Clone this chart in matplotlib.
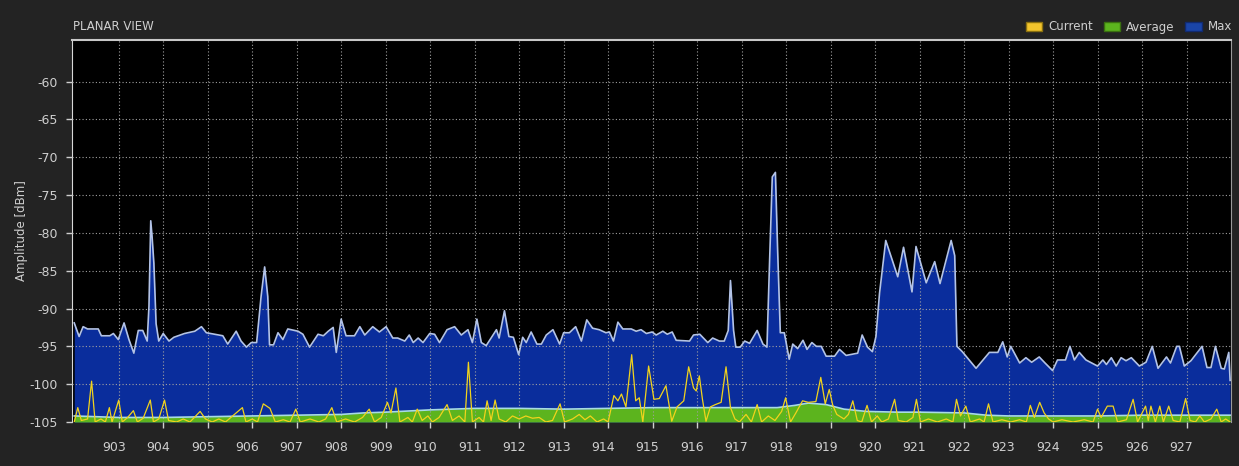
import matplotlib
matplotlib.use("agg")
import matplotlib.pyplot as plt
import matplotlib.patches as mpatches
import matplotlib.transforms as mtransforms

plt.rcParams['axes.unicode_minus'] = False

# Max trace (MHz, dBm)
max_f = [902.00, 902.11, 902.20, 902.30, 902.54, 902.61, 902.80, 902.88, 902.99, 903.12,
         903.23, 903.34, 903.44, 903.54, 903.64, 903.68, 903.72, 903.75, 903.79, 903.84,
         903.90, 904.00, 904.13, 904.24, 904.48, 904.71, 904.86, 904.97, 905.34, 905.45,
         905.64, 905.75, 905.87, 905.98, 906.10, 906.20, 906.28, 906.35, 906.39, 906.48,
         906.58, 906.69, 906.80, 907.03, 907.14, 907.29, 907.48, 907.60, 907.71, 907.82,
         907.89, 908.00, 908.11, 908.30, 908.42, 908.53, 908.71, 908.86, 909.01, 909.16,
         909.27, 909.43, 909.53, 909.62, 909.73, 909.84, 909.99, 910.10, 910.21, 910.38,
         910.55, 910.70, 910.85, 910.95, 911.05, 911.15, 911.26, 911.37, 911.49, 911.55,
         911.67, 911.77, 911.87, 911.99, 912.08, 912.16, 912.27, 912.40, 912.50, 912.61,
         912.76, 912.91, 913.00, 913.13, 913.27, 913.40, 913.52, 913.65, 913.80, 913.95,
         914.03, 914.12, 914.22, 914.33, 914.52, 914.63, 914.74, 914.86, 914.99, 915.08,
         915.23, 915.33, 915.44, 915.53, 915.83, 915.92, 916.06, 916.24, 916.35, 916.50,
         916.61, 916.70, 916.75, 916.82, 916.87, 916.97, 917.07, 917.18, 917.35, 917.48,
         917.57, 917.63, 917.69, 917.76, 917.81, 917.87, 917.96, 918.07, 918.15, 918.26,
         918.38, 918.47, 918.58, 918.68, 918.79, 918.90, 919.09, 919.20, 919.35, 919.61,
         919.71, 919.83, 919.94, 920.02, 920.10, 920.24, 920.51, 920.64, 920.83, 920.92,
         921.15, 921.34, 921.46, 921.71, 921.79, 921.84, 921.96, 922.27, 922.57, 922.76,
         922.87, 922.97, 923.05, 923.25, 923.39, 923.52, 923.69, 923.82, 923.99, 924.10,
         924.28, 924.38, 924.48, 924.59, 924.74, 925.00, 925.12, 925.20, 925.31, 925.42,
         925.53, 925.64, 925.76, 925.94, 926.09, 926.23, 926.36, 926.55, 926.64, 926.78,
         926.84, 926.95, 927.10, 927.35, 927.46, 927.55, 927.65, 927.78, 927.85, 927.95,
         927.98]
max_v = [-91.9, -93.7, -92.4, -92.7, -92.7, -93.6, -93.6, -93.3, -94.1, -91.9,
         -94.1, -95.9, -92.9, -92.9, -94.3, -89.7, -78.4, -80.5, -84.0, -92.0,
         -94.3, -93.3, -94.3, -93.8, -93.3, -93.0, -92.4, -93.2, -93.6, -94.7,
         -93.0, -94.3, -95.1, -94.5, -94.5, -88.4, -84.5, -88.4, -94.8, -94.8,
         -93.2, -94.1, -92.7, -93.0, -93.4, -95.1, -93.4, -93.6, -93.0, -92.5,
         -95.8, -91.4, -93.6, -93.6, -92.4, -93.5, -92.4, -93.1, -92.4, -93.9,
         -93.9, -94.3, -93.5, -94.5, -93.9, -94.5, -93.3, -93.4, -94.5, -92.8,
         -92.4, -93.5, -92.8, -94.5, -91.4, -94.5, -94.9, -93.9, -92.8, -93.9,
         -90.3, -93.7, -93.8, -96.1, -93.8, -94.5, -93.1, -94.7, -94.7, -93.5,
         -92.8, -94.7, -93.2, -93.2, -92.4, -94.3, -91.5, -92.6, -92.8, -93.2,
         -93.1, -94.3, -91.8, -92.7, -92.7, -93.0, -92.8, -93.3, -93.1, -93.5,
         -93.0, -93.4, -93.1, -94.2, -94.3, -93.5, -93.4, -94.5, -93.9, -94.3,
         -94.3, -92.9, -86.3, -92.9, -95.1, -95.1, -94.3, -94.6, -92.9, -94.7,
         -95.1, -83.6, -72.6, -72.0, -82.3, -93.2, -93.2, -96.7, -94.7, -95.3,
         -94.2, -95.4, -94.5, -95.0, -95.0, -96.3, -96.3, -95.4, -96.2, -95.9,
         -93.5, -95.1, -95.7, -93.7, -88.0, -81.0, -85.8, -81.9, -87.8, -81.8,
         -86.6, -83.8, -86.7, -81.0, -83.0, -95.0, -95.7, -97.9, -95.8, -95.8,
         -94.4, -96.4, -95.0, -97.2, -96.5, -97.1, -96.4, -97.2, -98.2, -96.8,
         -96.8, -95.0, -96.8, -95.8, -96.8, -97.6, -96.8, -97.4, -96.5, -97.6,
         -96.5, -96.9, -96.5, -97.6, -97.1, -95.0, -97.9, -96.4, -97.2, -95.0,
         -95.0, -97.6, -96.9, -95.0, -97.8, -97.8, -95.0, -97.9, -98.0, -95.8,
         -99.5]

# Average trace
avg_f = [902.0, 902.5, 903.0, 904.0, 905.0, 906.0, 907.0, 908.0, 908.5, 909.0,
         910.0, 911.0, 912.0, 913.0, 914.0, 915.0, 916.0, 917.0, 917.8, 918.2,
         918.5, 918.9, 919.3, 919.8, 920.5, 921.0, 922.0, 922.5, 923.0, 924.0,
         925.0, 926.0, 927.0, 927.98]
avg_v = [-104.2, -104.3, -104.4, -104.4, -104.3, -104.2, -104.1, -104.0, -103.8, -103.7,
         -103.4, -103.2, -103.2, -103.3, -103.2, -103.1, -103.1, -103.1, -103.1, -102.8,
         -102.5, -102.7, -103.3, -103.6, -103.7, -103.7, -103.8, -104.1, -104.2, -104.2,
         -104.2, -104.1, -104.1, -104.1]

# Current trace
cur_f = [902.00, 902.08, 902.16, 902.30, 902.39, 902.47, 902.60, 902.70, 902.79, 902.85,
         903.00, 903.08, 903.20, 903.33, 903.42, 903.55, 903.71, 903.78, 903.90, 904.03,
         904.12, 904.30, 904.45, 904.60, 904.83, 904.95, 905.10, 905.25, 905.40, 905.78,
         905.86, 906.00, 906.12, 906.25, 906.40, 906.52, 906.70, 906.85, 906.98, 907.08,
         907.30, 907.50, 907.65, 907.79, 907.90, 908.10, 908.30, 908.48, 908.63, 908.75,
         908.90, 909.04, 909.12, 909.23, 909.32, 909.50, 909.60, 909.71, 909.82, 909.95,
         910.05, 910.20, 910.38, 910.50, 910.65, 910.78, 910.86, 910.95, 911.10, 911.20,
         911.28, 911.37, 911.46, 911.55, 911.70, 911.85, 912.00, 912.15, 912.30, 912.45,
         912.60, 912.75, 912.92, 913.02, 913.20, 913.35, 913.48, 913.60, 913.75, 913.90,
         914.00, 914.13, 914.22, 914.30, 914.40, 914.53, 914.62, 914.70, 914.78, 914.91,
         915.03, 915.15, 915.30, 915.43, 915.55, 915.70, 915.81, 915.92, 915.98, 916.05,
         916.12, 916.20, 916.30, 916.41, 916.54, 916.65, 916.75, 916.85, 916.95, 917.10,
         917.22, 917.35, 917.45, 917.60, 917.75, 917.90, 917.99, 918.10, 918.22, 918.37,
         918.50, 918.67, 918.78, 918.88, 918.97, 919.05, 919.14, 919.30, 919.40, 919.50,
         919.60, 919.70, 919.82, 919.92, 920.05, 920.15, 920.30, 920.44, 920.52, 920.70,
         920.85, 920.93, 921.02, 921.20, 921.40, 921.60, 921.75, 921.83, 921.92, 922.04,
         922.14, 922.35, 922.45, 922.55, 922.65, 922.85, 923.05, 923.25, 923.40, 923.49,
         923.58, 923.70, 923.80, 923.90, 924.00, 924.20, 924.45, 924.70, 924.90, 925.00,
         925.08, 925.22, 925.35, 925.45, 925.65, 925.80, 925.90, 926.08, 926.14, 926.20,
         926.30, 926.40, 926.48, 926.60, 926.70, 926.85, 926.98, 927.08, 927.20, 927.30,
         927.40, 927.55, 927.68, 927.78, 927.88, 927.98]
cur_v = [-105.0, -103.1, -104.8, -104.6, -99.6, -105.0, -104.6, -105.0, -103.1, -105.0,
         -102.1, -105.0, -104.4, -103.5, -105.0, -104.5, -102.1, -105.0, -104.6, -102.1,
         -104.8, -105.0, -104.6, -105.0, -103.6, -104.6, -105.0, -104.6, -105.0, -103.1,
         -105.0, -104.6, -105.0, -102.6, -103.2, -105.0, -104.7, -105.0, -103.3, -105.0,
         -104.6, -105.0, -104.6, -103.1, -105.0, -104.6, -105.0, -104.4, -103.3, -105.0,
         -104.4, -102.4, -103.8, -100.5, -105.0, -104.4, -105.0, -103.3, -104.8, -104.2,
         -105.0, -104.4, -102.7, -104.8, -104.2, -105.0, -97.1, -105.0, -104.4, -105.0,
         -102.2, -104.8, -102.1, -104.6, -105.0, -104.2, -104.6, -104.2, -104.5, -104.4,
         -105.0, -104.8, -102.6, -105.0, -104.6, -104.0, -104.7, -104.2, -105.0, -104.6,
         -105.0, -101.5, -102.2, -101.3, -103.0, -96.1, -102.2, -101.8, -105.0, -97.6,
         -102.0, -101.9, -100.2, -104.9, -103.0, -102.2, -97.7, -100.5, -100.9, -98.9,
         -102.0, -104.9, -103.0, -102.7, -102.4, -97.7, -103.1, -104.6, -105.0, -104.0,
         -105.0, -102.7, -105.0, -104.2, -104.8, -103.6, -101.8, -105.0, -103.8, -102.2,
         -102.4, -102.3, -99.1, -102.6, -100.7, -102.8, -104.0, -104.6, -104.0, -102.2,
         -104.8, -105.0, -102.8, -105.0, -104.2, -105.0, -104.6, -102.0, -104.8, -105.0,
         -104.4, -102.0, -105.0, -104.6, -105.0, -104.6, -105.0, -102.0, -104.2, -102.9,
         -105.0, -104.6, -105.0, -102.6, -105.0, -104.7, -105.0, -104.7, -105.0, -102.8,
         -104.4, -102.4, -103.8, -104.6, -105.0, -104.7, -105.0, -104.7, -105.0, -103.3,
         -104.4, -102.9, -102.9, -105.0, -104.7, -102.0, -105.0, -102.9, -104.8, -102.9,
         -105.0, -102.9, -105.0, -102.9, -104.8, -105.0, -101.9, -104.8, -105.0, -104.2,
         -105.0, -104.6, -103.3, -105.0, -104.6, -105.0]

xticks = list(range(903, 928))
yticks = list(range(-60, -104, -5)) + [-105]

bg = '#232323'
txt = '#cfcfcf'

fig = plt.figure(figsize=(12.39, 4.66), dpi=100, facecolor=bg)
ax = fig.add_axes([72 / 1239, 1 - 422 / 466, (1231 - 72) / 1239, (422 - 40) / 466])
ax.set_facecolor('black')

floor = -105
ax.fill_between(max_f, floor, max_v, color='#0a2d9c', lw=0, zorder=1)
ax.plot(max_f, max_v, color='#b3c3e6', lw=1.2, zorder=3)
ax.fill_between(avg_f, floor, avg_v, color='#5cb41e', lw=0, zorder=1.5)
ax.plot(avg_f, avg_v, color='#a8dbe3', lw=1.2, zorder=3)
ax.plot(cur_f, cur_v, color='#f2d31c', lw=0.9, zorder=4)

ax.set_xlim(901.95, 928.0)
ax.set_ylim(-105, -54.5)
ax.set_xticks(xticks)
ax.set_yticks(yticks)
ax.set_axisbelow(False)
ax.grid(True, color='#a0a0a0', linestyle=(0, (1, 2)), linewidth=0.8)

ax.tick_params(axis='both', colors=txt, labelsize=9, length=4, width=1)
ax.tick_params(axis='x', pad=10)
ax.tick_params(axis='y', pad=6)
shift = mtransforms.ScaledTranslation(-5 / 100, 0, fig.dpi_scale_trans)
for lbl in ax.get_xticklabels():
    lbl.set_transform(lbl.get_transform() + shift)

ax.spines['left'].set_color('#d8d8d8')
ax.spines['top'].set_color('#c8c8c8')
ax.spines['top'].set_linewidth(1.5)
ax.spines['right'].set_color('#9a9a9a')
ax.spines['bottom'].set_visible(False)

ax.set_ylabel('Amplitude [dBm]', color=txt, fontsize=8.5, labelpad=1)
fig.text(73 / 1239, 1 - 27 / 466, 'PLANAR VIEW', color=txt, fontsize=8.5, va='center')

handles = [mpatches.Patch(facecolor='#f2c42c', edgecolor='#8a7010', label='Current'),
           mpatches.Patch(facecolor='#5cb41e', edgecolor='#3a7010', label='Average'),
           mpatches.Patch(facecolor='#1a45a8', edgecolor='#102a70', label='Max')]
fig.legend(handles=handles, loc='center right', bbox_to_anchor=(1232 / 1239, 1 - 27 / 466),
           ncol=3, frameon=False, fontsize=8.5, labelcolor=txt, handlelength=1.4,
           handleheight=0.7, handletextpad=0.5, columnspacing=0.9, borderpad=0, borderaxespad=0)

plt.savefig('out.png', dpi=100, facecolor=bg)
plt.close()
